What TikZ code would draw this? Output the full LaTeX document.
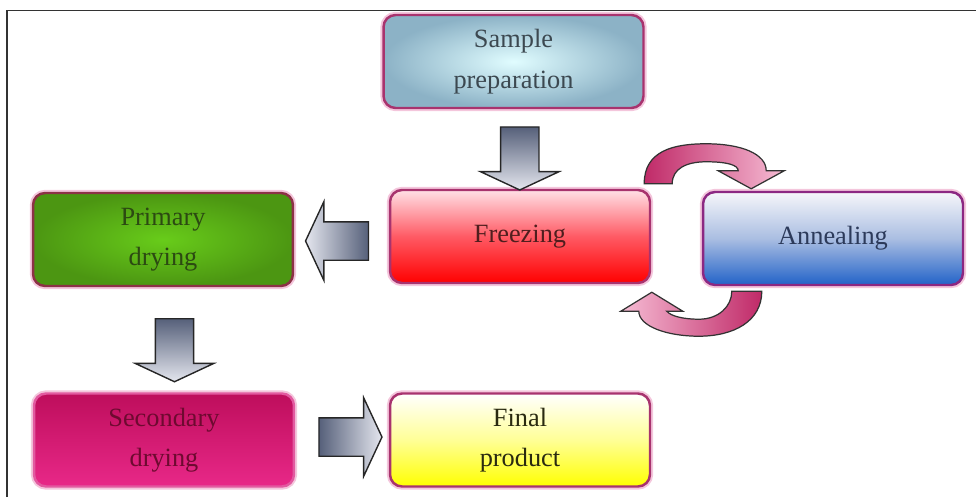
\documentclass[tikz,border=0pt]{standalone}
\usepackage{fontspec}
\setmainfont{Liberation Serif}
\usetikzlibrary{calc,shapes.arrows}

\definecolor{rimpink}{HTML}{A8336E}
\definecolor{glowpink}{HTML}{F4C6DC}
\definecolor{slatedark}{HTML}{56607A}
\definecolor{slatelight}{HTML}{E4E6EE}
\definecolor{loopdark}{HTML}{C02A68}
\definecolor{looplight}{HTML}{F6BCD4}

\tikzset{
  stage/.style={draw=rimpink, line width=1.4pt, rounded corners=0.24cm,
    minimum width=5.2cm, minimum height=1.86cm, align=center,
    font=\fontsize{15}{23}\selectfont,
    preaction={draw=glowpink, line width=3.6pt}},
  blockarrow/.style={single arrow, draw=black!85, line width=0.8pt,
    inner xsep=0pt, inner ysep=0.37cm, single arrow head extend=0.4cm,
    single arrow tip angle=130, minimum height=1.26cm},
  loopshape/.style={draw=black!80, line width=0.7pt}
}

\begin{document}
\begin{tikzpicture}[x=0.02cm, y=-0.02cm]
		%%%%% START %%%%%
		\useasboundingbox (0,0) rectangle (976,497);
		\draw[line width=0.9pt, black!80] (7,497) |- (976,10.5);
		
		% stages
		\node[stage, inner color=blue!8!cyan!12, outer color={rgb,255:red,140;green,178;blue,198},
		  text={rgb,255:red,60;green,72;blue,80}] (samp) at (513.5,61.5) {Sample\\preparation};
		\node[stage, top color={rgb,255:red,255;green,224;blue,230}, bottom color=red, middle color={rgb,255:red,255;green,90;blue,100},
		  text={rgb,255:red,80;green,30;blue,30}] (frz) at (520,236.5) {Freezing};
		\node[stage, draw={rgb,255:red,140;green,40;blue,130}, top color={rgb,255:red,246;green,246;blue,250},
		  bottom color={rgb,255:red,34;green,98;blue,200}, middle color={rgb,255:red,170;green,190;blue,226},
		  text={rgb,255:red,44;green,58;blue,90}] (ann) at (833,238.5) {Annealing};
		\node[stage, draw={rgb,255:red,140;green,50;blue,70}, inner color={rgb,255:red,104;green,204;blue,26},
		  outer color={rgb,255:red,76;green,150;blue,18}, text={rgb,255:red,44;green,74;blue,18}] (prim) at (163,239.5) {Primary\\drying};
		\node[stage, draw={rgb,255:red,226;green,90;blue,160}, top color={rgb,255:red,190;green,14;blue,92},
		  bottom color={rgb,255:red,232;green,40;blue,136}, text={rgb,255:red,110;green,10;blue,48}] (sec) at (164,440) {Secondary\\drying};
		\node[stage, top color=white, bottom color=yellow, middle color={rgb,255:red,255;green,255;blue,150},
		  text={rgb,255:red,42;green,42;blue,16}] (fin) at (520,440) {Final\\product};
		
		% block arrows
		\node[blockarrow, rotate=-90, top color=slatedark, bottom color=slatelight] (a1) at ($(samp.south)!0.5!(frz.north)+(3,5)$) {};
		\node[blockarrow, rotate=180, left color=slatelight, right color=slatedark] (a2) at ($(frz.west)!0.5!(prim.east)+(0,3)$) {};
		\node[blockarrow, rotate=-90, top color=slatedark, bottom color=slatelight] (a3) at ($(prim.south)!0.5!(sec.north)+(11,6)$) {};
		\node[blockarrow, left color=slatedark, right color=slatelight] (a4) at ($(sec.east)!0.5!(fin.west)+(4,-3)$) {};
		
		% freezing <-> annealing loop
		\begin{scope}[shift={(frz.north east)}]
		\draw[loopshape, left color=loopdark, right color=looplight]
		  (-7,-5) .. controls (-7,-38) and (22,-45) .. (55,-45)
		  .. controls (90,-45) and (115,-35) .. (115,-18) -- (133,-18) -- (100,0) -- (67,-18) -- (87,-18)
		  .. controls (87,-24) and (75,-27) .. (55,-27)
		  .. controls (35,-27) and (21,-20) .. (21,-5) -- cycle;
		\end{scope}
		\begin{scope}[shift={(ann.south west)}]
		\draw[loopshape, left color=looplight, right color=loopdark]
		  (60,5) .. controls (60,35) and (32,50) .. (-3,50)
		  .. controls (-35,50) and (-63,40) .. (-63,25) -- (-81,25) -- (-50,6) -- (-19,25) -- (-35,25)
		  .. controls (-31,30) and (-18,33) .. (-3,33)
		  .. controls (17,33) and (30,20) .. (30,5) -- cycle;
		\end{scope}
		%%%%% END %%%%%
\end{tikzpicture}
\end{document}
